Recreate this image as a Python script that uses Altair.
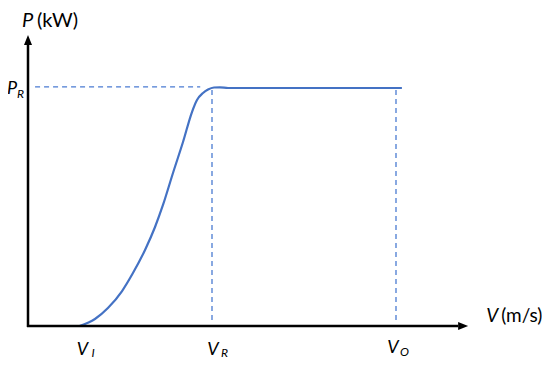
import altair as alt
import pandas as pd

# Wind speed (m/s) and power (kW)
wind = [3.5, 4.55, 5.43, 6.39, 7.13, 7.95, 8.63, 9.17, 9.85, 10.53, 11.14,
        11.48, 11.89, 12.23, 12.64, 13.04, 13.59, 14.2, 25.4]
power = [0, 59, 151, 294, 445, 639, 832, 1017, 1286, 1546, 1798,
         1899, 1958, 1987, 2004, 2006, 2000, 2000, 2000]

V_I = 3.5
V_R = 12.5
V_O = 25.0
P_R = 2000
V_MAX = 29.9   # x-axis arrow tip
P_MAX = 2445   # y-axis arrow tip

xs = alt.Scale(domain=[0, 30], range=[20, 461.6])
ys = alt.Scale(domain=[0, 2400], range=[318, 32.4])

BLUE = "#4472C4"
DASH = "#4A7BD2"
FONT = "Lato"

curve_df = pd.DataFrame({"v": wind, "p": power})
curve = alt.Chart(curve_df).mark_line(color=BLUE, strokeWidth=2.2, interpolate="monotone").encode(
    x=alt.X("v:Q", scale=xs, axis=None),
    y=alt.Y("p:Q", scale=ys, axis=None),
)

rules_df = pd.DataFrame({
    "x": [0.48, V_R, V_O],
    "x2": [11.7, V_R, V_O],
    "y": [P_R + 10, 50, 50],
    "y2": [P_R + 10, P_R, P_R],
})
dashed = alt.Chart(rules_df).mark_rule(color=DASH, strokeWidth=1.3, strokeDash=[5, 4]).encode(
    x=alt.X("x:Q", scale=xs, axis=None), x2="x2:Q",
    y=alt.Y("y:Q", scale=ys, axis=None), y2="y2:Q",
)

axes_df = pd.DataFrame({
    "x": [0, -0.07],
    "x2": [0, V_MAX - 0.68],
    "y": [-8, 0],
    "y2": [P_MAX - 84, 0],
})
axes = alt.Chart(axes_df).mark_rule(color="black", strokeWidth=2.5).encode(
    x=alt.X("x:Q", scale=xs, axis=None), x2="x2:Q",
    y=alt.Y("y:Q", scale=ys, axis=None), y2="y2:Q",
)

up = alt.Chart(pd.DataFrame({"x": [0], "y": [P_MAX]})).mark_point(
    shape="M0,0L-0.8,2L0.8,2Z", size=100, filled=True, color="black", opacity=1
).encode(x=alt.X("x:Q", scale=xs, axis=None), y=alt.Y("y:Q", scale=ys, axis=None))

right = alt.Chart(pd.DataFrame({"x": [V_MAX], "y": [0]})).mark_point(
    shape="M0,0L-2,-0.8L-2,0.8Z", size=100, filled=True, color="black", opacity=1
).encode(x=alt.X("x:Q", scale=xs, axis=None), y=alt.Y("y:Q", scale=ys, axis=None))


def txt(text, x, y, dx, dy, size=18, italic=False, align="left"):
    return alt.Chart(pd.DataFrame({"x": [x], "y": [y], "t": [text]})).mark_text(
        font=FONT, fontSize=size, fontStyle="italic" if italic else "normal",
        align=align, baseline="alphabetic", dx=dx, dy=dy, color="black"
    ).encode(x=alt.X("x:Q", scale=xs, axis=None), y=alt.Y("y:Q", scale=ys, axis=None), text="t:N")


labels = [
    # y-axis title
    txt("P", 0, P_MAX, -6, -8, 20, True),
    txt("(kW)", 0, P_MAX, 9, -8, 20),
    # P_R
    txt("P", 0, P_R, -11, 6, 18, True, "right"),
    txt("R", 0, P_R, -11, 10, 12, True),
    # V_I
    txt("V", V_I, 0, 3, 29, 18, True, "center"),
    txt("I", V_I, 0, 12, 31, 12, True),
    # V_R
    txt("V", V_R, 0, 1, 29, 18, True, "center"),
    txt("R", V_R, 0, 9, 31, 12, True),
    # V_O
    txt("V", V_O, 0, -3, 27, 18, True, "center"),
    txt("O", V_O, 0, 4, 30, 12, True),
    # x-axis title
    txt("V", V_MAX, 0, 18, -4, 19, True),
    txt("(m/s)", V_MAX, 0, 33, -4, 19),
]

chart = alt.layer(dashed, curve, axes, up, right, *labels).properties(
    width=534, height=352,
    autosize=alt.AutoSizeParams(type="none"),
    padding=0,
).configure_view(stroke=None)

chart.save("out.html", embed_options={"renderer": "svg", "actions": False})
